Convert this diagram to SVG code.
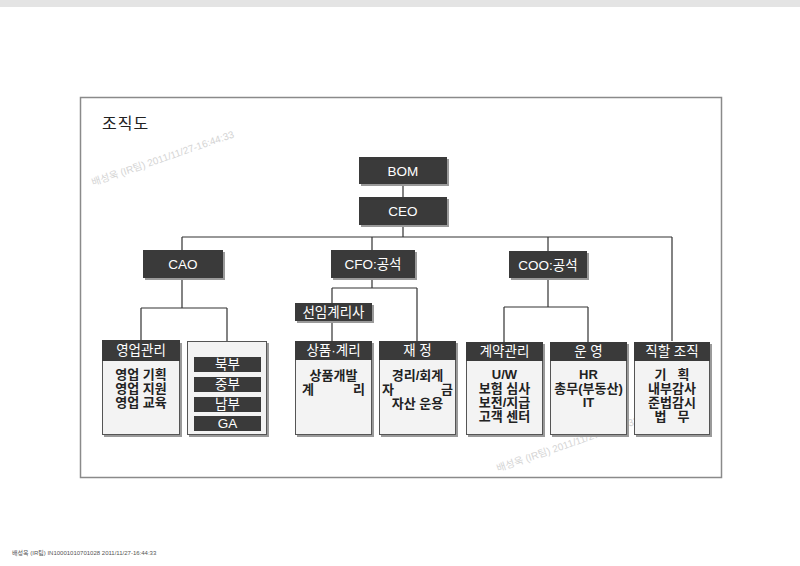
<svg xmlns="http://www.w3.org/2000/svg" width="800" height="566" viewBox="0 0 800 566">
<style>
text{font-family:"Liberation Sans","Noto Sans CJK KR",sans-serif}
.dk{fill:#3a3a3a}
.sh{fill:#9a9a9a}
.bd{fill:#f3f3f3;stroke:#555;stroke-width:1}
.wt{fill:#fff;font-size:13.5px;text-anchor:middle}
.bt{fill:#222;font-size:13px;font-weight:bold;text-anchor:middle}
.ln{stroke:#333;stroke-width:1.2;fill:none}
.wm{fill:#d4d4d4;font-size:10px}
</style>
<rect width="800" height="566" fill="#fff"/>
<rect width="800" height="7" fill="#e4e4e4"/>
<rect x="80.5" y="97.5" width="641" height="380" fill="none" stroke="#8a8a8a" stroke-width="1.5"/>
<text x="102" y="129" font-size="16" fill="#222" letter-spacing="1">조직도</text>
<text class="wm" transform="translate(93,186) rotate(-19)">배성욱 (IR팀) 2011/11/27-16:44:33</text>
<text class="wm" transform="translate(498,472) rotate(-19)">배성욱 (IR팀) 2011/11/27-16:44:33</text>
<text x="12" y="555" font-size="6" fill="#555">배성욱 (IR팀) IN10001010701028 2011/11/27-16:44:33</text>
<g id="connectors">
<path class="ln" d="M403 184V197M403 225V237M182 237H672M182 237V250M372 237V250M548 237V252M672 237V341"/>
<path class="ln" d="M182 278V308M141 308H227M141 308V341M227 308V341"/>
<path class="ln" d="M372 278V288M332 288H417M332 288V303M332 321V341M417 288V341"/>
<path class="ln" d="M548 279V307M504 307H588M504 307V342M588 307V342"/>
</g>
<g id="bom"><rect class="sh" x="361" y="159" width="88" height="27"/><rect class="dk" x="359" y="157" width="88" height="27"/><text class="wt" x="403" y="176" font-size="14.5">BOM</text></g>
<g id="ceo"><rect class="sh" x="361" y="199" width="88" height="28"/><rect class="dk" x="359" y="197" width="88" height="28"/><text class="wt" x="403" y="216" font-size="14.5">CEO</text></g>
<g id="cao"><rect class="sh" x="145" y="252" width="80" height="28"/><rect class="dk" x="143" y="250" width="80" height="28"/><text class="wt" x="183" y="269" font-size="14.5">CAO</text></g>
<g id="cfo"><rect class="sh" x="333" y="252" width="84" height="28"/><rect class="dk" x="331" y="250" width="84" height="28"/><text class="wt" x="373" y="269" font-size="14.5">CFO:공석</text></g>
<g id="coo"><rect class="sh" x="511" y="253" width="78" height="27"/><rect class="dk" x="509" y="251" width="78" height="27"/><text class="wt" x="548" y="270" font-size="14.5">COO:공석</text></g>
<g id="actuary"><rect class="sh" x="297" y="305" width="77" height="18"/><rect class="dk" x="295" y="303" width="77" height="18"/><text class="wt" x="333.5" y="317">선임계리사</text></g>
<g id="sales">
<rect class="sh" x="104" y="343" width="78" height="94"/>
<rect class="bd" x="102.5" y="360.5" width="77" height="74"/>
<rect class="dk" x="102" y="340" width="78" height="21"/>
<text class="wt" x="141" y="355">영업관리</text>
<text class="bt" x="141" y="379">영업 기획</text>
<text class="bt" x="141" y="393">영업 지원</text>
<text class="bt" x="141" y="407">영업 교육</text>
</g>
<g id="regions">
<rect class="sh" x="189" y="343" width="80" height="94"/>
<rect class="bd" x="187.5" y="341.5" width="79" height="93"/>
<rect class="dk" x="194" y="357" width="67" height="15"/><text class="wt" x="227.5" y="369" font-size="11">북부</text>
<rect class="dk" x="194" y="377" width="67" height="15"/><text class="wt" x="227.5" y="389" font-size="11">중부</text>
<rect class="dk" x="194" y="397" width="67" height="15"/><text class="wt" x="227.5" y="409" font-size="11">남부</text>
<rect class="dk" x="194" y="416" width="67" height="15"/><text class="wt" x="227.5" y="428" font-size="11">GA</text>
</g>
<g id="product">
<rect class="sh" x="297" y="343" width="77" height="94"/>
<rect class="bd" x="295.5" y="359.5" width="76" height="75"/>
<rect class="dk" x="295" y="341" width="77" height="19"/>
<text class="wt" x="333.5" y="355">상품·계리</text>
<text class="bt" x="333.5" y="380">상품개발</text>
<text class="bt" x="308" y="394" text-anchor="start">계</text>
<text class="bt" x="359" y="394" text-anchor="end">리</text>
</g>
<g id="finance">
<rect class="sh" x="381" y="343" width="77" height="94"/>
<rect class="bd" x="379.5" y="359.5" width="76" height="75"/>
<rect class="dk" x="379" y="341" width="77" height="19"/>
<text class="wt" x="417.5" y="355">재  정</text>
<text class="bt" x="417.5" y="380">경리/회계</text>
<text class="bt" x="388" y="394" text-anchor="start">자</text>
<text class="bt" x="447" y="394" text-anchor="end">금</text>
<text class="bt" x="417.5" y="408">자산 운용</text>
</g>
<g id="contract">
<rect class="sh" x="468" y="344" width="77" height="93"/>
<rect class="bd" x="466.5" y="360.5" width="76" height="74"/>
<rect class="dk" x="466" y="342" width="77" height="19"/>
<text class="wt" x="504.5" y="356">계약관리</text>
<text class="bt" x="504.5" y="379">U/W</text>
<text class="bt" x="504.5" y="393">보험 심사</text>
<text class="bt" x="504.5" y="407">보전/지급</text>
<text class="bt" x="504.5" y="421">고객 센터</text>
</g>
<g id="operation">
<rect class="sh" x="552" y="344" width="77" height="93"/>
<rect class="bd" x="550.5" y="360.5" width="76" height="74"/>
<rect class="dk" x="550" y="342" width="77" height="19"/>
<text class="wt" x="588.5" y="356">운  영</text>
<text class="bt" x="588.5" y="379">HR</text>
<text class="bt" x="588.5" y="393">총무(부동산)</text>
<text class="bt" x="588.5" y="407">IT</text>
</g>
<g id="direct">
<rect class="sh" x="636" y="344" width="76" height="93"/>
<rect class="bd" x="634.5" y="360.5" width="75" height="74"/>
<rect class="dk" x="634" y="342" width="76" height="19"/>
<text class="wt" x="672" y="356">직할 조직</text>
<text class="bt" x="672" y="379" xml:space="preserve">기   획</text>
<text class="bt" x="672" y="393">내부감사</text>
<text class="bt" x="672" y="407">준법감시</text>
<text class="bt" x="672" y="421" xml:space="preserve">법   무</text>
</g>
</svg>
